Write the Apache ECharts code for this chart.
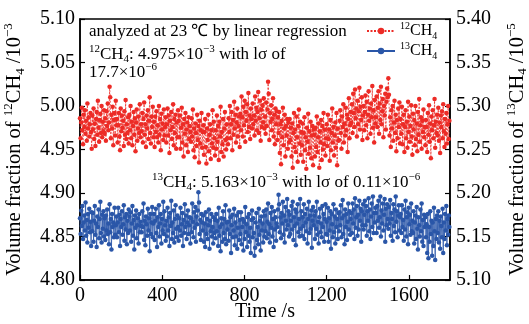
<!DOCTYPE html>
<html><head><meta charset="utf-8">
<script src="https://cdn.jsdelivr.net/npm/echarts@6/dist/echarts.min.js"></script>
<style>html,body{margin:0;padding:0;background:#fff}#c{width:529px;height:324px}</style>
</head><body><div id="c"></div>
<script>
// sampling step of the time axis (s)
const timeStep = 3;
// 12CH4 volume fraction (x10^-3), left axis
const ch4_12 = [
4.986,4.963,4.981,4.998,4.972,4.956,4.990,4.976,4.995,4.968,4.983,4.960,5.003,4.974,4.987,4.965,4.979,4.992,4.970,4.951,
4.989,4.973,4.997,4.962,4.980,4.954,4.985,4.993,4.967,5.006,4.975,4.959,4.984,4.991,4.969,5.000,4.964,4.982,4.971,4.995,
4.968,4.986,4.960,4.994,4.977,5.003,4.972,4.981,5.022,5.010,4.963,4.990,4.974,4.999,4.955,4.984,4.992,4.966,5.006,4.978,
4.985,4.958,4.978,4.992,4.965,4.949,4.997,4.971,4.989,4.975,4.983,4.954,4.994,4.967,5.007,4.962,4.979,4.969,4.987,4.957,
4.990,4.972,5.000,4.963,4.982,4.955,4.977,4.993,4.967,4.986,4.948,4.981,4.996,4.960,4.974,4.988,4.969,5.002,4.964,4.979,
4.971,4.992,4.958,4.985,5.004,4.967,4.979,4.953,4.989,4.974,4.995,4.962,4.983,5.010,4.969,4.957,4.988,4.976,4.999,4.964,
4.982,4.953,4.988,4.970,4.994,4.964,4.978,4.958,5.000,4.967,4.985,4.949,4.991,4.973,4.980,4.961,4.996,4.966,4.976,4.987,
4.958,4.979,4.997,4.966,4.989,4.946,4.983,4.972,4.993,4.962,4.976,5.002,4.955,4.985,4.969,4.990,4.951,4.981,4.964,4.995,
4.983,4.964,4.989,4.951,4.975,4.998,4.958,4.979,4.942,4.985,4.968,4.992,4.955,4.973,4.981,4.947,4.987,4.962,4.977,4.970,
4.959,4.986,4.965,4.996,4.949,4.974,4.941,4.980,4.969,4.954,4.990,4.961,4.977,4.935,4.983,4.957,4.972,4.992,4.952,4.970,
4.978,4.944,4.970,4.985,4.953,4.934,4.974,4.961,4.990,4.948,4.967,4.979,4.939,4.972,4.957,4.995,4.952,4.982,4.963,4.943,
4.972,4.951,4.989,4.959,4.977,4.938,4.982,4.965,4.999,4.947,4.970,4.956,4.985,4.942,4.974,4.993,4.961,4.950,4.979,4.963,
4.956,4.986,4.970,5.000,4.963,4.979,4.993,4.949,4.984,4.967,5.005,4.974,4.990,4.958,4.981,4.997,4.965,4.977,4.988,4.953,
4.991,4.972,5.011,4.987,4.965,4.999,4.978,5.006,4.959,4.993,4.983,5.002,4.970,5.015,4.976,4.989,4.962,4.997,4.985,4.974,
5.003,4.979,4.989,4.966,5.011,4.983,4.998,4.972,4.993,5.016,4.969,4.986,5.006,4.960,4.996,4.976,5.001,4.981,5.009,4.974,
4.988,4.968,5.004,4.977,4.996,5.028,5.014,4.961,4.992,4.982,5.001,4.972,4.985,5.009,4.965,4.990,4.956,4.997,4.979,4.994,
4.961,4.987,4.969,4.993,4.946,4.979,4.933,4.983,4.964,4.998,4.955,4.974,4.990,4.942,4.977,4.966,4.985,4.951,4.981,4.958,
4.985,4.961,4.975,4.942,4.980,4.929,4.969,4.992,4.953,4.973,4.947,4.988,4.964,4.936,4.977,4.996,4.957,4.982,4.944,4.970,
4.955,4.980,4.936,4.969,4.987,4.949,4.964,4.928,4.975,4.959,4.991,4.945,4.971,4.952,4.982,4.940,4.966,4.977,4.932,4.973,
4.967,4.942,4.975,4.953,4.988,4.947,4.964,4.980,4.929,4.971,4.958,4.984,4.938,4.977,4.950,4.992,4.956,4.973,4.943,4.963,
4.979,4.954,4.990,4.962,4.973,4.937,4.984,4.949,4.969,4.997,4.958,4.976,4.943,4.966,4.981,4.952,4.992,4.932,4.974,4.960,
4.961,4.983,4.995,4.969,4.951,4.988,4.976,5.002,4.958,4.980,4.966,4.998,4.972,4.990,4.947,4.985,5.009,4.963,4.978,4.993,
4.981,5.002,4.969,5.014,4.992,4.976,5.019,4.986,4.997,4.965,5.006,4.979,4.994,5.021,4.973,4.999,4.984,5.010,4.961,4.989,
5.000,4.972,4.993,5.012,4.978,5.005,4.963,4.990,5.017,4.983,4.997,4.968,5.003,4.987,5.023,4.975,4.995,4.958,5.007,4.980,
4.987,5.011,4.976,4.998,5.017,4.968,5.003,4.984,5.022,4.979,4.994,5.008,4.964,5.000,4.989,5.014,4.973,5.005,5.020,5.010,
5.032,5.013,4.966,4.987,4.953,4.995,4.974,5.000,4.960,4.981,5.006,4.969,4.990,4.948,4.984,4.963,4.997,4.976,5.004,4.957,
4.985,4.968,4.999,4.956,4.979,4.990,4.947,4.976,4.995,4.963,4.982,4.952,5.005,4.970,4.988,4.959,4.977,5.001,4.965,4.944,
4.991,4.973,4.984,4.955,5.000,4.962,4.980,4.948,4.993,4.967,5.008,4.959,4.978,4.987,4.951,4.983,4.970,4.996,4.964,4.976,
4.955,4.984,4.976,4.947,4.992,4.967,5.001,4.959,4.980,4.940,4.988,4.972,4.995,4.963,4.978,5.008,4.952,4.982,4.969,4.990,
4.966,4.998,4.960,4.981,4.946,4.989,4.976,4.994,4.963,5.002,4.971,4.953,4.985,4.968,4.992,4.957,4.979,5.000,4.962,4.983
];
// 13CH4 volume fraction (x10^-5), right axis
const ch4_13 = [
5.171,5.153,5.180,5.162,5.185,5.147,5.166,5.174,5.157,5.189,5.151,5.169,5.143,5.176,5.160,5.182,5.155,5.167,5.139,5.178,
5.156,5.177,5.144,5.168,5.185,5.152,5.165,5.138,5.173,5.161,5.181,5.148,5.170,5.190,5.154,5.143,5.175,5.159,5.179,5.150,
5.171,5.146,5.174,5.157,5.181,5.153,5.165,5.141,5.187,5.155,5.170,5.135,5.176,5.161,5.166,5.149,5.183,5.152,5.163,5.173,
5.149,5.166,5.183,5.155,5.175,5.139,5.170,5.161,5.179,5.152,5.164,5.186,5.145,5.172,5.158,5.176,5.141,5.168,5.154,5.181,
5.173,5.157,5.178,5.144,5.165,5.185,5.151,5.169,5.135,5.174,5.160,5.180,5.148,5.163,5.171,5.142,5.176,5.155,5.167,5.162,
5.155,5.179,5.161,5.188,5.146,5.168,5.140,5.173,5.164,5.151,5.182,5.157,5.171,5.133,5.176,5.153,5.166,5.184,5.149,5.165,
5.176,5.146,5.168,5.182,5.154,5.138,5.172,5.161,5.186,5.150,5.165,5.176,5.142,5.170,5.157,5.190,5.153,5.179,5.163,5.145,
5.168,5.150,5.183,5.157,5.172,5.139,5.177,5.162,5.191,5.147,5.166,5.154,5.180,5.143,5.170,5.186,5.159,5.149,5.174,5.161,
5.145,5.171,5.157,5.183,5.151,5.164,5.177,5.139,5.169,5.154,5.187,5.161,5.174,5.147,5.166,5.180,5.153,5.163,5.172,5.142,
5.171,5.155,5.188,5.167,5.149,5.178,5.160,5.184,5.144,5.173,5.164,5.180,5.201,5.189,5.153,5.169,5.146,5.176,5.166,5.157,
5.174,5.144,5.165,5.138,5.178,5.153,5.170,5.147,5.163,5.181,5.136,5.168,5.156,5.176,5.150,5.161,5.142,5.172,5.154,5.169,
5.148,5.176,5.156,5.168,5.139,5.183,5.151,5.161,5.133,5.171,5.164,5.144,5.179,5.154,5.170,5.147,5.186,5.141,5.166,5.158,
5.167,5.145,5.180,5.153,5.172,5.131,5.163,5.175,5.149,5.157,5.182,5.140,5.166,5.150,5.174,5.136,5.160,5.178,5.146,5.169,
5.153,5.178,5.141,5.161,5.170,5.134,5.167,5.147,5.184,5.155,5.164,5.138,5.172,5.151,5.176,5.144,5.160,5.131,5.169,5.180,
5.149,5.171,5.154,5.128,5.137,5.166,5.177,5.146,5.161,5.141,5.182,5.152,5.168,5.134,5.173,5.157,5.165,5.143,5.179,5.150,
5.174,5.156,5.181,5.148,5.167,5.188,5.153,5.164,5.143,5.177,5.160,5.184,5.150,5.170,5.138,5.179,5.158,5.172,5.145,5.165,
5.161,5.181,5.198,5.187,5.155,5.172,5.148,5.177,5.165,5.190,5.152,5.174,5.143,5.184,5.168,5.158,5.193,5.163,5.179,5.150,
5.175,5.153,5.168,5.185,5.158,5.190,5.146,5.172,5.162,5.181,5.140,5.178,5.165,5.187,5.155,5.170,5.150,5.193,5.159,5.179,
5.151,5.172,5.162,5.187,5.147,5.176,5.166,5.156,5.182,5.142,5.170,5.190,5.154,5.174,5.159,5.180,5.137,5.168,5.184,5.163,
5.174,5.147,5.179,5.159,5.190,5.152,5.167,5.142,5.172,5.182,5.155,5.165,5.149,5.185,5.161,5.176,5.144,5.170,5.187,5.153,
5.167,5.152,5.183,5.144,5.171,5.157,5.179,5.136,5.176,5.164,5.149,5.187,5.155,5.173,5.142,5.181,5.161,5.170,5.147,5.177,
5.156,5.178,5.163,5.186,5.149,5.171,5.192,5.153,5.174,5.141,5.181,5.161,5.176,5.146,5.167,5.188,5.158,5.179,5.152,5.170,
5.177,5.154,5.188,5.165,5.181,5.147,5.194,5.160,5.172,5.185,5.151,5.175,5.158,5.191,5.168,5.182,5.144,5.179,5.163,5.187,
5.158,5.175,5.191,5.163,5.185,5.151,5.179,5.168,5.194,5.156,5.181,5.147,5.173,5.188,5.161,5.196,5.154,5.177,5.166,5.183,
5.177,5.154,5.185,5.168,5.191,5.160,5.172,5.196,5.150,5.180,5.165,5.188,5.157,5.175,5.193,5.144,5.182,5.163,5.187,5.170,
5.159,5.184,5.165,5.192,5.151,5.177,5.170,5.145,5.187,5.162,5.181,5.155,5.196,5.167,5.179,5.149,5.174,5.186,5.157,5.172,
5.176,5.154,5.186,5.161,5.169,5.145,5.181,5.158,5.191,5.150,5.172,5.178,5.141,5.183,5.164,5.175,5.152,5.188,5.156,5.168,
5.154,5.179,5.142,5.166,5.174,5.147,5.184,5.159,5.135,5.172,5.163,5.150,5.181,5.156,5.188,5.144,5.169,5.139,5.175,5.161,
5.172,5.149,5.164,5.131,5.176,5.125,5.161,5.144,5.179,5.153,5.168,5.128,5.166,5.139,5.183,5.156,5.123,5.170,5.147,5.174,
5.154,5.179,5.143,5.168,5.136,5.173,5.162,5.149,5.182,5.131,5.166,5.147,5.176,5.157,5.185,5.140,5.170,5.152,5.174,5.161
];
const xTicks = [0, 400, 800, 1200, 1600];
const leftTicks = ['4.80','4.85','4.90','4.95','5.00','5.05','5.10'];
const rightTicks = ['5.10','5.15','5.20','5.25','5.30','5.35','5.40'];
const seriesNames = ['12CH4', '13CH4'];

const F = 'Liberation Serif';
const RED = '#ec2b26', BLUE = '#2a56a8';
function rich(fs) {
  const sub = Math.round(fs * 0.62);
  return {
    n: {fontFamily: F, fontSize: fs, fontWeight: 'normal', color: '#000', lineHeight: fs + 4},
    sup: {fontFamily: F, fontSize: sub, fontWeight: 'normal', color: '#000', verticalAlign: 'top', lineHeight: fs + 4},
    sub: {fontFamily: F, fontSize: sub, fontWeight: 'normal', color: '#000', verticalAlign: 'bottom', lineHeight: fs + 4}
  };
}
const d12 = ch4_12.map((v, i) => [i * timeStep, v]);
const d13 = ch4_13.map((v, i) => [i * timeStep, v]);

function note(left, top, text) {
  return {left: left, top: top, padding: 0, text: text, textStyle: {fontWeight: 'normal', rich: rich(17)}};
}

const chart = echarts.init(document.getElementById('c'), null, {renderer: 'canvas'});
chart.setOption({
  animation: false,
  backgroundColor: '#fff',
  grid: {left: 80, right: 79, top: 19, bottom: 44, containLabel: false, outerBoundsMode: 'none',
         show: true, borderColor: '#000', borderWidth: 1.5, backgroundColor: 'transparent'},
  title: [
    note(89, 21, '{n|analyzed at 23 ℃ by linear regression}'),
    note(89, 44, '{sup|12}{n|CH}{sub|4}{n|: 4.975×10}{sup|−3}{n| with lσ of}'),
    note(89, 62, '{n|17.7×10}{sup|−6}'),
    note(152, 172, '{sup|13}{n|CH}{sub|4}{n|: 5.163×10}{sup|−3}{n| with lσ of 0.11×10}{sup|−6}')
  ],
  legend: {
    orient: 'vertical', left: 366, top: 21, padding: 0, itemWidth: 28, itemHeight: 8, itemGap: 0,
    data: seriesNames,
    formatter: function (name) { return '{sup|' + name.slice(0, 2) + '}{n|CH}{sub|4}'; },
    textStyle: {rich: rich(16)}
  },
  xAxis: {
    type: 'value', min: 0, max: 1800, interval: 400,
    name: 'Time /s', nameLocation: 'middle', nameGap: 22, nameMoveOverlap: false,
    nameTextStyle: {fontFamily: F, fontSize: 20, color: '#000', verticalAlign: 'top'},
    axisLine: {lineStyle: {color: '#000', width: 1.5}},
    axisTick: {inside: true, length: 5, lineStyle: {color: '#000', width: 1.2}},
    axisLabel: {fontFamily: F, fontSize: 20, color: '#000', margin: 6, showMaxLabel: false,
      formatter: v => (xTicks.indexOf(v) >= 0 ? String(v) : '')},
    splitLine: {show: false}
  },
  yAxis: [
    {
      type: 'value', min: 4.80, max: 5.10, interval: 0.05, position: 'left',
      name: '{n|Volume fraction of }{sup|12}{n|CH}{sub|4}{n| /10}{sup|−3}',
      nameLocation: 'middle', nameGap: 53, nameRotate: 90,
      nameTextStyle: {rich: rich(20.5)},
      axisLine: {show: true, lineStyle: {color: '#000', width: 1.5}},
      axisTick: {show: true, inside: true, length: 5, lineStyle: {color: '#000', width: 1.2}},
      axisLabel: {fontFamily: F, fontSize: 20, color: '#000', margin: 5,
        formatter: v => leftTicks[Math.round((v - 4.80) / 0.05)]},
      splitLine: {show: false}
    },
    {
      type: 'value', min: 5.10, max: 5.40, interval: 0.05, position: 'right',
      name: '{n|Volume fraction of }{sup|13}{n|CH}{sub|4}{n| /10}{sup|−5}',
      nameLocation: 'middle', nameGap: 55, nameRotate: 90,
      nameTextStyle: {rich: rich(20.5)},
      axisLine: {show: true, lineStyle: {color: '#000', width: 1.5}},
      axisTick: {show: true, inside: true, length: 5, lineStyle: {color: '#000', width: 1.2}},
      axisLabel: {fontFamily: F, fontSize: 20, color: '#000', margin: 6,
        formatter: v => rightTicks[Math.round((v - 5.10) / 0.05)]},
      splitLine: {show: false}
    }
  ],
  series: [
    {
      name: seriesNames[0], type: 'line', yAxisIndex: 0, data: d12,
      symbol: 'circle', symbolSize: 4.5, showSymbol: true,
      lineStyle: {color: RED, width: 0.8, type: [2, 1.5]},
      itemStyle: {color: RED}
    },
    {
      name: seriesNames[1], type: 'line', yAxisIndex: 1, data: d13,
      symbol: 'circle', symbolSize: 4.5, showSymbol: true,
      lineStyle: {color: BLUE, width: 0.8},
      itemStyle: {color: BLUE}
    }
  ]
});
</script>
</body></html>
